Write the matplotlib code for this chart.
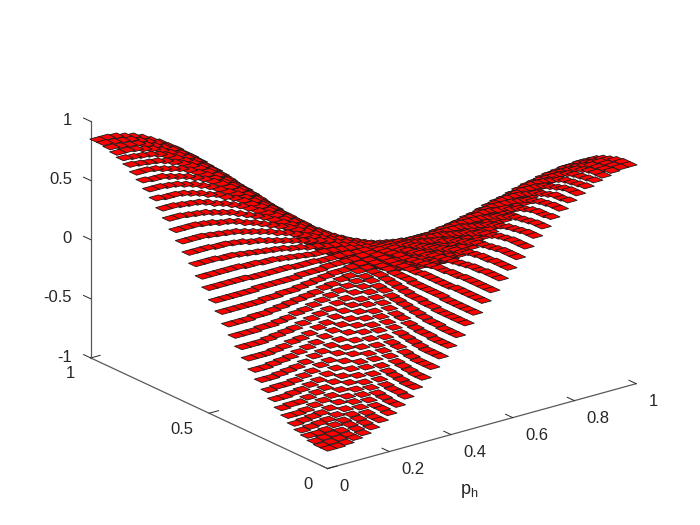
import matplotlib
matplotlib.use('Agg')
import matplotlib.pyplot as plt
import numpy as np
from mpl_toolkits.mplot3d.art3d import Poly3DCollection

plt.rcParams['font.family'] = ['Liberation Sans', 'DejaVu Sans']
plt.rcParams['mathtext.default'] = 'regular'

X_TICKS = [0, 0.2, 0.4, 0.6, 0.8, 1]
Y_TICKS = [0, 0.5, 1]
Z_TICKS = [-1, -0.5, 0, 0.5, 1]
TICK_LABELS_X = ['0', '0.2', '0.4', '0.6', '0.8', '1']
TICK_LABELS_Y = ['0', '0.5', '1']
TICK_LABELS_Z = ['-1', '-0.5', '0', '0.5', '1']

# tile heights in hundredths, front quarter of the surface (picture is symmetric)
heights_quarter = [
    [85, 85, 84, 82, 80, 77, 73, 69, 64, 59, 53, 47, 40, 33, 26, 19, 11, 4],
    [85, 84, 83, 82, 79, 76, 73, 68, 64, 58, 53, 47, 40, 33, 26, 19, 11, 4],
    [84, 83, 82, 81, 78, 75, 72, 68, 63, 58, 52, 46, 40, 33, 26, 19, 11, 4],
    [82, 82, 81, 79, 77, 74, 70, 66, 62, 57, 51, 45, 39, 32, 25, 18, 11, 4],
    [80, 79, 78, 77, 75, 72, 68, 64, 60, 55, 50, 44, 38, 31, 25, 18, 11, 4],
    [77, 76, 75, 74, 72, 69, 66, 62, 58, 53, 48, 42, 36, 30, 24, 17, 10, 3],
    [73, 73, 72, 70, 68, 66, 63, 59, 55, 50, 45, 40, 35, 29, 23, 16, 10, 3],
    [69, 68, 68, 66, 64, 62, 59, 56, 52, 48, 43, 38, 33, 27, 21, 15, 9, 3],
    [64, 64, 63, 62, 60, 58, 55, 52, 48, 44, 40, 35, 30, 25, 20, 14, 9, 3],
    [59, 58, 58, 57, 55, 53, 50, 48, 44, 41, 37, 32, 28, 23, 18, 13, 8, 3],
    [53, 53, 52, 51, 50, 48, 45, 43, 40, 37, 33, 29, 25, 21, 16, 12, 7, 2],
    [47, 47, 46, 45, 44, 42, 40, 38, 35, 32, 29, 26, 22, 18, 14, 10, 6, 2],
    [40, 40, 40, 39, 38, 36, 35, 33, 30, 28, 25, 22, 19, 16, 12, 9, 5, 2],
    [33, 33, 33, 32, 31, 30, 29, 27, 25, 23, 21, 18, 16, 13, 10, 7, 4, 1],
    [26, 26, 26, 25, 25, 24, 23, 21, 20, 18, 16, 14, 12, 10, 8, 6, 4, 1],
    [19, 19, 19, 18, 18, 17, 16, 15, 14, 13, 12, 10, 9, 7, 6, 4, 3, 1],
    [11, 11, 11, 11, 11, 10, 10, 9, 9, 8, 7, 6, 5, 4, 4, 3, 2, 1],
    [4, 4, 4, 4, 4, 3, 3, 3, 3, 3, 2, 2, 2, 1, 1, 1, 1, 0],
]

q = np.array(heights_quarter) / 100
# front corner is low, side corners high, back corner low
heights = np.block([[-q, q[:, ::-1]], [q[::-1, :], -q[::-1, ::-1]]])
n = heights.shape[0]
edges = np.linspace(0, 1, n + 1)
pad = 0.06 / n  # tiles a little wider than their cell, fills out the blurred look

tiles = []
for i in range(n):
    for j in range(n):
        z = heights[i, j]
        x0, x1 = edges[i] - pad, edges[i + 1] + pad
        y0, y1 = edges[j] - pad, edges[j + 1] + pad
        tiles.append([(x0, y0, z), (x1, y0, z), (x1, y1, z), (x0, y1, z)])

fig = plt.figure(figsize=(7, 5.25), dpi=100)
ax = fig.add_subplot(projection='3d', proj_type='ortho')
ax.set_position([4 / 700, -87 / 525, 1, 700 / 525])
ax.view_init(elev=21, azim=-127.5)
ax.set_box_aspect((390, 390, 254), zoom=0.84)

ax.add_collection3d(Poly3DCollection(tiles, facecolors='#ff0000', edgecolors='#1a1a1a', linewidths=0.6))
ax.set_xlim(0, 1)
ax.set_ylim(0, 1)
ax.set_zlim(-1, 1)

ax.set_xticks(X_TICKS, TICK_LABELS_X)
ax.set_yticks(Y_TICKS, TICK_LABELS_Y)
ax.set_zticks(Z_TICKS, TICK_LABELS_Z)
# z ticks point along y, as in the original
ax.zaxis._AXINFO = {**ax.zaxis._AXINFO, 'z': {**ax.zaxis._AXINFO['z'], 'tickdir': 1}}
ax.grid(False)
for axis in (ax.xaxis, ax.yaxis, ax.zaxis):
    axis.set_pane_color((1, 1, 1, 0))
    axis.pane.set_edgecolor((1, 1, 1, 0))
    axis.line.set_color('#595959')
    axis.line.set_linewidth(0.9)
    axis._axinfo['tick']['inward_factor'] = 0
    axis._axinfo['tick']['outward_factor'] = 0.38
    axis._axinfo['tick']['linewidth'] = {True: 0.7, False: 0.4}
    axis._axinfo['tick']['color'] = '#595959'
ax.tick_params(labelsize=12, colors='#262626')
ax.tick_params(axis='x', pad=5.5)
ax.tick_params(axis='y', pad=5)
ax.tick_params(axis='z', pad=1)
plt.setp(ax.get_xticklabels(), ha='left', va='center')
plt.setp(ax.get_yticklabels(), ha='right', va='center')
plt.setp(ax.get_zticklabels(), ha='right', va='center')

fig.text(469 / 700, 1 - 491 / 525, 'p$_{h}$', fontsize=13, color='#262626', ha='center', va='center')

fig.savefig('out.png', dpi=100)
